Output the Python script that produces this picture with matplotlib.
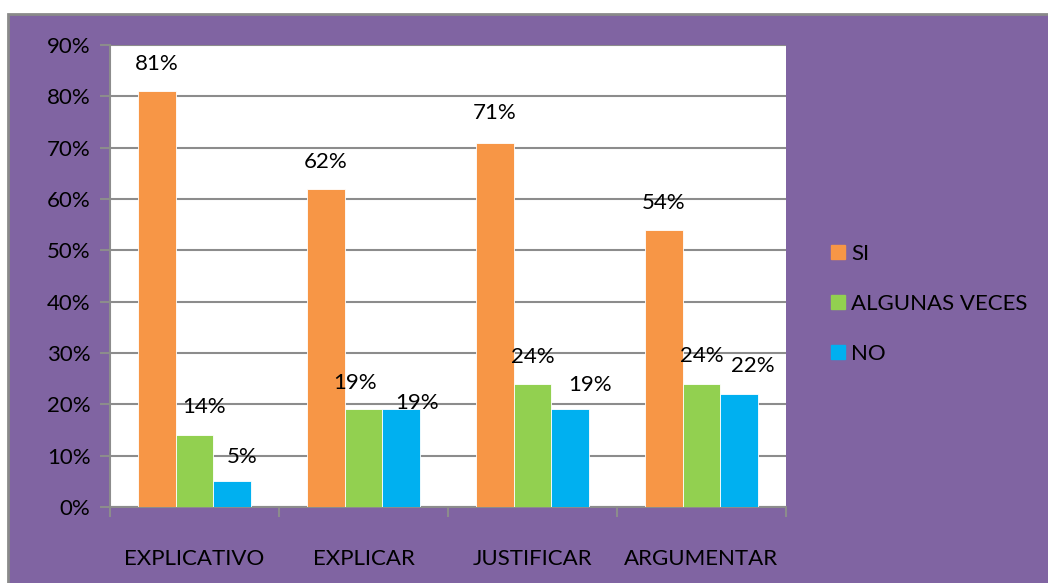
import matplotlib
matplotlib.use("Agg")
import matplotlib.pyplot as plt
from matplotlib.patches import Rectangle
from matplotlib.lines import Line2D
import numpy as np

categories = ["EXPLICATIVO", "EXPLICAR", "JUSTIFICAR", "ARGUMENTAR"]
series_names = ["SI", "ALGUNAS VECES", "NO"]
si = [81, 62, 71, 54]
algunas = [14, 19, 24, 24]
no = [5, 19, 19, 22]
yticks = [0, 10, 20, 30, 40, 50, 60, 70, 80, 90]

colors = ["#F79646", "#92D050", "#00B0F0"]
purple = "#8064A2"
grid_c = "#8C8C8C"

# label offsets (pixels) per series/category: (dx, dy)
label_offsets = [
    [(0, 27), (0, 27), (0, 30), (0, 27)],
    [(10, 28), (-8, 26), (0, 27), (0, 28)],
    [(10, 24), (16, 6), (20, 24), (14, 28)],
]

plt.rcParams["font.family"] = ["Lato", "DejaVu Sans"]
W, H = 1048, 583
fig = plt.figure(figsize=(W / 100, H / 100), dpi=100)
fig.patch.set_facecolor("white")
fig.patches.append(Rectangle((8 / W, -0.1), 1.2, (H - 14) / H + 0.1, transform=fig.transFigure,
                             facecolor=purple, edgecolor="#8A8A8A", linewidth=2, zorder=-5))

ax = fig.add_axes([110 / W, (H - 507) / H, (786 - 110) / W, (507 - 45) / H])
ax.set_zorder(2)
ax.set_facecolor("white")

x = np.arange(len(categories))
bw = 0.2225
data = [si, algunas, no]
for i, (vals, c) in enumerate(zip(data, colors)):
    pos = x + (i - 1) * bw
    ax.bar(pos, vals, width=bw, color=c, edgecolor="white", linewidth=0.6, zorder=3,
           label=series_names[i])
    for j, (p, v) in enumerate(zip(pos, vals)):
        dx, dy = label_offsets[i][j]
        ax.annotate(f"{v}%", (p, v), xytext=(dx, dy), textcoords="offset pixels",
                    ha="center", va="center", fontsize=16, color="black", zorder=5)

ax.set_xlim(-0.5, len(categories) - 0.5)
ax.set_ylim(0, 90)
ax.set_yticks(yticks)
ax.set_yticklabels([f"{t}%" for t in yticks], fontsize=16)
ax.yaxis.grid(True, color=grid_c, linewidth=1.5, zorder=1)
ax.set_axisbelow(True)

ax.set_xticks(x)
ax.set_xticklabels(categories, fontsize=16)
ax.tick_params(axis="x", length=0, pad=30)
ax.set_xticks(np.arange(len(categories) + 1) - 0.5, minor=True)
ax.tick_params(axis="x", which="minor", length=7, width=1.5, color=grid_c)
ax.tick_params(axis="y", length=7, width=1.5, color=grid_c, pad=7)

for s in ["top", "right"]:
    ax.spines[s].set_visible(False)
for s in ["left", "bottom"]:
    ax.spines[s].set_color(grid_c)
    ax.spines[s].set_linewidth(1.5)

handles = [Line2D([0], [0], marker="s", linestyle="none", markersize=10,
                  markerfacecolor=c, markeredgecolor=c) for c in colors]
fig.legend(handles, series_names, loc="center left", bbox_to_anchor=(818 / W, (H - 304) / H),
           frameon=False, fontsize=16, labelspacing=1.35, handletextpad=0.1,
           handlelength=1.0, borderaxespad=0)

fig.savefig("out.png", dpi=100, facecolor=fig.get_facecolor())
